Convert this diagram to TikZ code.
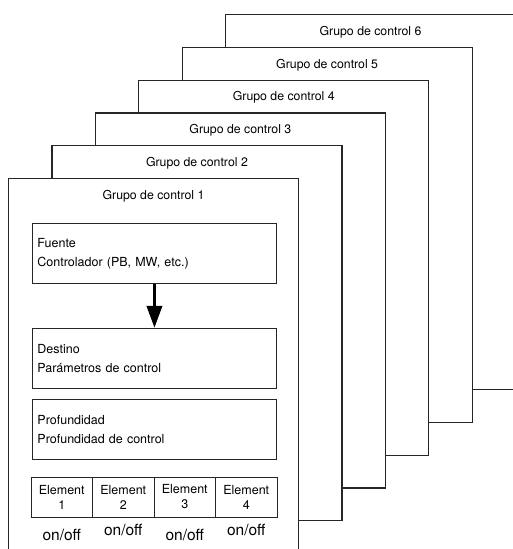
\documentclass[tikz,border=0pt]{standalone}
\usepackage{fontspec}
\setmainfont{TeX Gyre Heros}
\usetikzlibrary{arrows.meta,positioning}

\tikzset{
  grupo/.style={draw=black!85, line width=1.1pt, fill=white, minimum width=290pt,
    minimum height=375pt, inner sep=0pt, anchor=north west},
  titulo/.style={font=\fontsize{12.3}{14}\selectfont, inner sep=0pt},
  caja/.style={draw=black!85, line width=0.9pt, minimum height=60pt, text width=234pt,
    align=left, inner sep=5pt, anchor=north west, font=\fontsize{12.5}{19}\selectfont},
  celda/.style={draw=black!85, line width=0.9pt, minimum width=61.5pt, minimum height=40pt,
    align=center, inner sep=0pt, font=\fontsize{12.5}{15}\selectfont},
  onoff/.style={font=\fontsize{15.5}{17}\selectfont, inner sep=0pt},
  flecha/.style={line width=3.5pt, -{Triangle[length=22pt,width=15pt]}},
}

\begin{document}
\begin{tikzpicture}[x=1pt, y=-1pt]

  % --- 1. marco ---
  \fill[white] (0,0) rectangle (513,549);
  \clip (0,0) rectangle (513,549);
  \useasboundingbox (0,0) rectangle (513,549);

  % --- 2. grupos de control (de atras hacia delante) ---
  \foreach \k in {6,...,1} {
    \pgfmathsetmacro{\gx}{8+(\k-1)*43.4}
    \pgfmathsetmacro{\gy}{178-(\k-1)*32.8}
    \node[grupo] (g\k) at (\gx,\gy) {};
    \node[titulo] (t\k) at ([yshift=-18pt]g\k.north) {Grupo de control \k};
  }

  % --- 3. cajas del grupo 1 ---
  \node[caja] (fuente) at ([xshift=24pt,yshift=-45pt]g1.north west)
    {Fuente\\Controlador (PB, MW, etc.)};
  \node[caja, below=44pt of fuente] (destino) {Destino\\Parámetros de control};
  \node[caja, below=10pt of destino] (profundidad) {Profundidad\\Profundidad de control};

  \draw[flecha] (fuente.south) -- (destino.north);

  % --- 4. elementos ---
  \foreach \i in {1,...,4} {
    \pgfmathsetmacro{\ex}{31+61.5*(\i-0.5)}
    \pgfmathsetmacro{\oy}{530+5*mod(\i,2)}
    \node[celda] (e\i) at (\ex,497) {Element\\\i};
    \node[onoff] (o\i) at (\ex,\oy) {on/off};
  }

\end{tikzpicture}
\end{document}
